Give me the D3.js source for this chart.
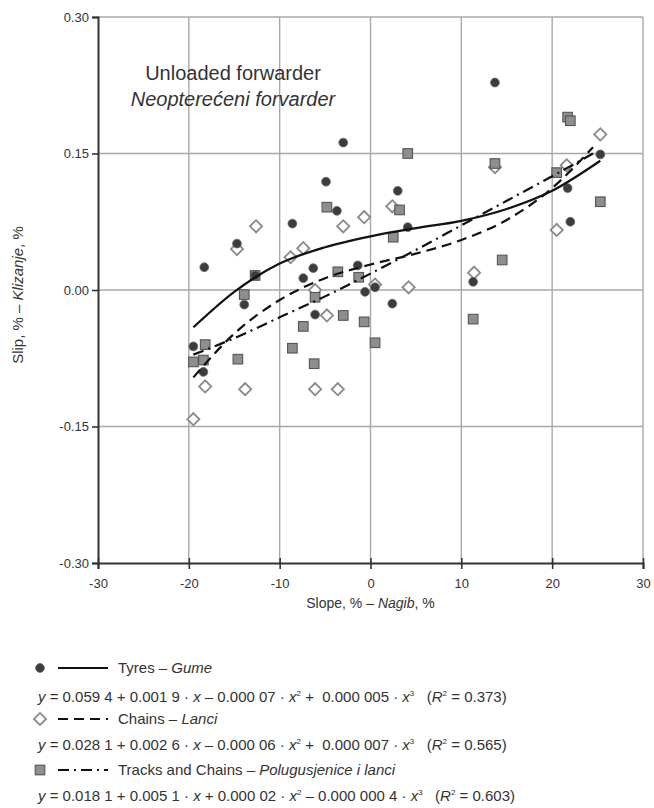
<!DOCTYPE html>
<html>
<head>
<meta charset="utf-8">
<script src="https://cdn.jsdelivr.net/npm/d3@7"></script>
<style>
  body { margin: 0; background: #fff; }
  svg text { font-family: "Liberation Sans Narrow", "Arial Narrow", "Liberation Sans", Arial, sans-serif; fill: #333; }
</style>
</head>
<body>
<svg id="chart" width="654" height="808"></svg>
<script>
// scatter points: [slope %, slip]
const tyres = [
    [-19.5, -0.062], [-18.4, -0.090], [-18.3, 0.025], [-14.7, 0.051], [-13.9, -0.016],
    [-12.7, 0.016], [-8.6, 0.073], [-7.4, 0.013], [-6.3, 0.024], [-6.1, -0.027],
    [-4.9, 0.119], [-3.7, 0.087], [-3.0, 0.162], [-1.4, 0.027], [-0.6, -0.002],
    [0.5, 0.003], [2.4, -0.015], [3.0, 0.109], [4.1, 0.069], [11.3, 0.009],
    [13.7, 0.228], [21.7, 0.112], [22.0, 0.075], [25.3, 0.149]
];
const chains = [
    [-19.5, -0.142], [-18.2, -0.106], [-14.7, 0.045], [-13.8, -0.109], [-12.6, 0.070],
    [-8.8, 0.036], [-7.4, 0.046], [-6.1, 0.000], [-6.1, -0.109], [-4.8, -0.028],
    [-3.6, -0.109], [-3.0, 0.070], [-0.7, 0.080], [0.5, 0.006], [2.4, 0.092],
    [4.2, 0.003], [11.4, 0.019], [13.7, 0.135], [20.5, 0.066], [21.6, 0.137], [25.3, 0.171]
];
const tracks = [
    [-19.5, -0.079], [-18.4, -0.077], [-18.2, -0.060], [-14.6, -0.076], [-13.9, -0.005],
    [-12.7, 0.016], [-8.6, -0.064], [-7.4, -0.040], [-6.2, -0.081], [-6.1, -0.008],
    [-4.8, 0.091], [-3.6, 0.020], [-3.0, -0.028], [-1.3, 0.014], [-0.7, -0.035],
    [0.5, -0.058], [2.5, 0.058], [3.2, 0.088], [4.1, 0.150], [11.3, -0.032],
    [13.7, 0.139], [14.5, 0.033], [20.5, 0.129], [21.7, 0.190], [22.0, 0.186], [25.3, 0.097]
];

// fitted trend curves
const tyresFit = [
    [-19.5, -0.041], [-15, -0.002], [-10, 0.029], [-5, 0.047], [0, 0.059],
    [5, 0.068], [10, 0.076], [15, 0.089], [20, 0.109], [25.3, 0.142]
];
const chainsFit = [
    [-19.5, -0.096], [-15, -0.048], [-10, -0.011], [-5, 0.013], [0, 0.028],
    [5, 0.040], [10, 0.055], [15, 0.077], [20, 0.112], [24.5, 0.157]
];
const tracksFit = [
    [-19.5, -0.071], [-15, -0.053], [-10, -0.030], [-5, -0.007], [0, 0.018],
    [5, 0.044], [10, 0.071], [15, 0.098], [20, 0.125], [24.5, 0.150]
];

const xTicks = [-30, -20, -10, 0, 10, 20, 30];
const yTicks = [-0.30, -0.15, 0.00, 0.15, 0.30];

const svg = d3.select('#chart');
const margin = {top: 17, left: 98, right: 11, bottom: 245};
const width = 654, height = 808;

const x = d3.scaleLinear().domain([-30, 30]).range([margin.left, width - margin.right]);
const y = d3.scaleLinear().domain([-0.30, 0.30]).range([height - margin.bottom, margin.top]);

// grid
const grid = svg.append('g');
grid.selectAll('.vg').data(xTicks.slice(1)).enter().append('line')
    .attr('x1', d => x(d)).attr('x2', d => x(d))
    .attr('y1', y(0.30)).attr('y2', y(-0.30))
    .attr('stroke', '#a8a8a8').attr('stroke-width', 1.4);
grid.selectAll('.hg').data(yTicks.slice(1)).enter().append('line')
    .attr('x1', x(-30)).attr('x2', x(30))
    .attr('y1', d => y(d)).attr('y2', d => y(d))
    .attr('stroke', '#a8a8a8').attr('stroke-width', 1.4);

// axes (plain hyphen for negatives, as in the original)
const hy = f => d => f(d).replace('−', '-');
const xAxis = svg.append('g')
    .attr('transform', `translate(0, ${y(-0.30)})`)
    .call(d3.axisBottom(x).tickValues(xTicks).tickSize(6).tickFormat(hy(d3.format('d'))));
const yAxis = svg.append('g')
    .attr('transform', `translate(${x(-30)}, 0)`)
    .call(d3.axisLeft(y).tickValues(yTicks).tickSize(6).tickFormat(hy(d3.format('.2f'))));
[xAxis, yAxis].forEach(a => {
    a.select('.domain').attr('stroke', '#333').attr('stroke-width', 2);
    a.selectAll('.tick line').attr('stroke', '#333').attr('stroke-width', 1.6);
    a.selectAll('.tick text').style('font-size', '13px').attr('fill', '#333');
});
xAxis.selectAll('.tick line').attr('y1', -5);
xAxis.selectAll('.tick text').attr('dy', '1.25em');
yAxis.selectAll('.tick text').attr('x', -9);

// axis titles
const xt = svg.append('text')
    .attr('x', x(0)).attr('y', 608)
    .attr('text-anchor', 'middle').style('font-size', '14px');
xt.append('tspan').text('Slope, % – ');
xt.append('tspan').style('font-style', 'italic').text('Nagib');
xt.append('tspan').text(', %');

const yt = svg.append('text')
    .attr('transform', `translate(23, ${y(0) + 5}) rotate(-90)`)
    .attr('text-anchor', 'middle').style('font-size', '15px');
yt.append('tspan').text('Slip, % – ');
yt.append('tspan').style('font-style', 'italic').text('Klizanje');
yt.append('tspan').text(', %');

// annotation
svg.append('text').attr('x', 233).attr('y', 80)
    .attr('text-anchor', 'middle').style('font-size', '20px')
    .text('Unloaded forwarder');
svg.append('text').attr('x', 233).attr('y', 106)
    .attr('text-anchor', 'middle').style('font-size', '20px').style('font-style', 'italic')
    .text('Neopterećeni forvarder');

// markers
const diamond = d3.symbol().type(d3.symbolSquare).size(74);
function drawCircle(g, cx, cy) {
    g.append('circle').attr('cx', cx).attr('cy', cy).attr('r', 4.4)
        .attr('fill', '#3c3c3c').attr('stroke', '#666').attr('stroke-width', 0.8);
}
function drawDiamond(g, cx, cy) {
    g.append('path').attr('d', diamond)
        .attr('transform', `translate(${cx},${cy}) rotate(45)`)
        .attr('fill', '#fff').attr('stroke', '#8a8a8a').attr('stroke-width', 1.8);
}
function drawSquare(g, cx, cy) {
    g.append('rect').attr('x', cx - 4.8).attr('y', cy - 4.8)
        .attr('width', 9.6).attr('height', 9.6)
        .attr('fill', '#8e8e8e').attr('stroke', '#555').attr('stroke-width', 1.1);
}

const pts = svg.append('g');
chains.forEach(d => drawDiamond(pts, x(d[0]), y(d[1])));
tracks.forEach(d => drawSquare(pts, x(d[0]), y(d[1])));
tyres.forEach(d => drawCircle(pts, x(d[0]), y(d[1])));

// trend lines
const line = d3.line().x(d => x(d[0])).y(d => y(d[1])).curve(d3.curveMonotoneX);
const styles = {
    tyres: {dash: null},
    chains: {dash: '10,6'},
    tracks: {dash: '11,5,2,5'}
};
[[tyresFit, styles.tyres], [chainsFit, styles.chains], [tracksFit, styles.tracks]].forEach(([pts2, st]) => {
    svg.append('path').datum(pts2).attr('d', line)
        .attr('fill', 'none').attr('stroke', '#111').attr('stroke-width', 2.2)
        .attr('stroke-dasharray', st.dash);
});

// legend
const lg = svg.append('g');
const legendFont = '15px';
function legendRow(cy, marker, dash, name, nameIt) {
    marker(lg, 40, cy);
    lg.append('line').attr('x1', 58).attr('x2', 108).attr('y1', cy).attr('y2', cy)
        .attr('stroke', '#111').attr('stroke-width', 2.2).attr('stroke-dasharray', dash);
    const t = lg.append('text').attr('x', 118).attr('y', cy + 5).style('font-size', legendFont);
    t.append('tspan').text(name + ' – ');
    t.append('tspan').style('font-style', 'italic').text(nameIt);
}
function eqRow(cy, parts, r2) {
    const t = lg.append('text').attr('x', 38).attr('y', cy + 5).style('font-size', legendFont)
        .attr('xml:space', 'preserve');
    t.append('tspan').style('font-style', 'italic').text('y');
    t.append('tspan').text(` = ${parts[0]} ${parts[1]} · `);
    t.append('tspan').style('font-style', 'italic').text('x');
    t.append('tspan').text(` ${parts[2]} · `);
    t.append('tspan').style('font-style', 'italic').text('x');
    t.append('tspan').attr('dy', -6).style('font-size', '8px').text('2');
    t.append('tspan').attr('dy', 6).text(` ${parts[3]} · `);
    t.append('tspan').style('font-style', 'italic').text('x');
    t.append('tspan').attr('dy', -6).style('font-size', '8px').text('3');
    t.append('tspan').attr('dy', 6).text('   (');
    t.append('tspan').style('font-style', 'italic').text('R');
    t.append('tspan').attr('dy', -6).style('font-size', '8px').text('2');
    t.append('tspan').attr('dy', 6).text(` = ${r2})`);
}
legendRow(668, drawCircle, null, 'Tyres', 'Gume');
eqRow(697, ['0.059 4', '+ 0.001 9', '– 0.000 07', '+  0.000 005'], '0.373');
legendRow(719, drawDiamond, '10,6', 'Chains', 'Lanci');
eqRow(745, ['0.028 1', '+ 0.002 6', '– 0.000 06', '+  0.000 007'], '0.565');
legendRow(770, drawSquare, '11,5,2,5', 'Tracks and Chains', 'Polugusjenice i lanci');
eqRow(796, ['0.018 1', '+ 0.005 1', '+ 0.000 02', '– 0.000 000 4'], '0.603');
</script>
</body>
</html>
